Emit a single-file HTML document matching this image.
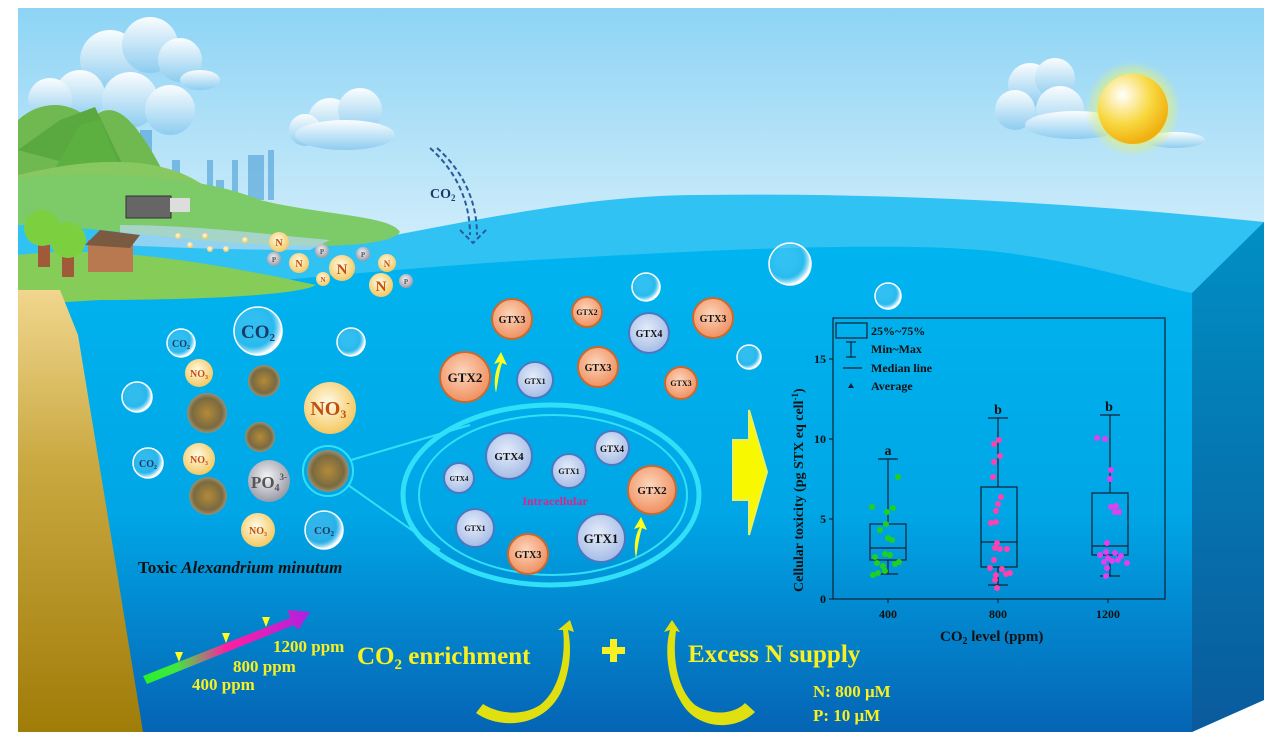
<!DOCTYPE html>
<html><head><meta charset="utf-8"><style>
html,body{margin:0;padding:0;background:#fff;}
svg{display:block;font-family:"Liberation Serif",serif;font-weight:bold;}
</style></head><body>
<svg width="1274" height="738" viewBox="0 0 1274 738" xmlns="http://www.w3.org/2000/svg">
<defs>
<linearGradient id="sky" x1="0" y1="0" x2="0" y2="1"><stop offset="0" stop-color="#8ed4f5"/><stop offset="1" stop-color="#e2f4fc"/></linearGradient>
<linearGradient id="sea" x1="0" y1="0" x2="0" y2="1"><stop offset="0" stop-color="#00b4f0"/><stop offset="0.55" stop-color="#00a6e6"/><stop offset="1" stop-color="#0564b4"/></linearGradient>
<linearGradient id="face" x1="0" y1="0" x2="0" y2="1"><stop offset="0" stop-color="#0090c4"/><stop offset="1" stop-color="#0a5a9c"/></linearGradient>
<linearGradient id="sand" x1="0" y1="0" x2="0" y2="1"><stop offset="0" stop-color="#f0d68e"/><stop offset="0.4" stop-color="#c9a840"/><stop offset="1" stop-color="#a07c08"/></linearGradient>
<linearGradient id="rain" x1="0" y1="0" x2="1" y2="0"><stop offset="0" stop-color="#2af02a"/><stop offset="0.2" stop-color="#40e840"/><stop offset="0.5" stop-color="#ff20a0"/><stop offset="1" stop-color="#b020e0"/></linearGradient>
<radialGradient id="bub" cx="0.4" cy="0.4" r="0.6"><stop offset="0" stop-color="#e8f8ff" stop-opacity="0.2"/><stop offset="0.7" stop-color="#60c8f0" stop-opacity="0.4"/><stop offset="1" stop-color="#ffffff"/></radialGradient>
<radialGradient id="no3" cx="0.45" cy="0.4" r="0.6"><stop offset="0" stop-color="#fffbe8"/><stop offset="1" stop-color="#f4c860"/></radialGradient>
<radialGradient id="po4" cx="0.45" cy="0.4" r="0.6"><stop offset="0" stop-color="#f4f4f8"/><stop offset="1" stop-color="#9a9aa6"/></radialGradient>
<radialGradient id="cell" cx="0.5" cy="0.5" r="0.5"><stop offset="0" stop-color="#b48a38"/><stop offset="0.75" stop-color="#7a6a40"/><stop offset="1" stop-color="#9a9070"/></radialGradient>
<radialGradient id="or" cx="0.45" cy="0.4" r="0.6"><stop offset="0" stop-color="#fcd6bc"/><stop offset="1" stop-color="#f09060"/></radialGradient>
<radialGradient id="bl" cx="0.45" cy="0.4" r="0.6"><stop offset="0" stop-color="#e4ecfa"/><stop offset="1" stop-color="#a6bce6"/></radialGradient>
<radialGradient id="sun" cx="0.35" cy="0.3" r="0.7"><stop offset="0" stop-color="#ffffff"/><stop offset="0.6" stop-color="#f8d840"/><stop offset="1" stop-color="#f0b010"/></radialGradient>
<radialGradient id="glow" cx="0.5" cy="0.5" r="0.5"><stop offset="0.6" stop-color="#e0f080"/><stop offset="1" stop-color="#e0f080" stop-opacity="0"/></radialGradient>
<linearGradient id="cloud" x1="0" y1="0" x2="0" y2="1"><stop offset="0" stop-color="#ffffff"/><stop offset="1" stop-color="#8cccf0"/></linearGradient>
</defs>
<!-- sky -->
<rect x="18" y="8" width="1246" height="300" fill="url(#sky)"/>
<!-- clouds -->
<g fill="url(#cloud)" opacity="0.95">
<circle cx="110" cy="60" r="30"/><circle cx="150" cy="45" r="28"/><circle cx="180" cy="60" r="22"/><circle cx="80" cy="95" r="25"/><circle cx="130" cy="100" r="28"/><circle cx="170" cy="110" r="25"/><circle cx="50" cy="100" r="22"/><ellipse cx="200" cy="80" rx="20" ry="10"/>
<circle cx="330" cy="120" r="22"/><circle cx="360" cy="110" r="22"/><circle cx="305" cy="130" r="16"/><ellipse cx="345" cy="135" rx="50" ry="15"/>
<circle cx="1030" cy="85" r="22"/><circle cx="1055" cy="78" r="20"/><circle cx="1015" cy="110" r="20"/><circle cx="1060" cy="110" r="24"/><ellipse cx="1075" cy="125" rx="50" ry="14"/><ellipse cx="1175" cy="140" rx="30" ry="8"/>
</g>
<!-- city -->
<g fill="#5aa8dc" opacity="0.7"><rect x="126" y="125" width="8" height="60"/><rect x="140" y="130" width="12" height="55"/><rect x="172" y="160" width="8" height="40"/><rect x="207" y="160" width="6" height="35"/><rect x="216" y="180" width="8" height="20"/><rect x="232" y="160" width="6" height="35"/><rect x="248" y="155" width="16" height="45"/><rect x="268" y="150" width="6" height="50"/></g>
<!-- sun -->
<circle cx="1133" cy="109" r="48" fill="url(#glow)"/>
<circle cx="1133" cy="109" r="35" fill="url(#sun)"/>
<!-- ocean -->
<path d="M18 310 L18 200 C150 200 300 240 380 238 C500 215 600 195 700 195 C900 192 1100 205 1264 222 L1264 700 L1192 732 L18 732 Z" fill="#31c2f4"/>
<path d="M18 300 C200 290 350 272 500 262 C700 250 900 240 1000 252 C1100 265 1150 285 1192 293 L1192 732 L18 732 Z" fill="url(#sea)"/>
<polygon points="1192,293 1264,222 1264,700 1192,732" fill="url(#face)"/>
<!-- land -->
<path d="M18 120 C40 100 70 100 90 120 C110 100 130 105 170 185 L18 200 Z" fill="#70b850"/>
<path d="M18 150 L60 120 L95 107 L130 180 Z" fill="#5aa840"/>
<path d="M40 195 L80 125 L100 120 L128 185 Z" fill="#5cb040"/>
<path d="M18 175 C80 160 160 150 210 190 L18 200 Z" fill="#88c860"/>
<path d="M18 178 C100 170 200 175 260 200 C320 215 390 215 400 232 C390 248 300 250 200 240 C120 232 60 225 18 225 Z" fill="#7cca68"/>
<path d="M120 225 C200 225 280 236 330 240 L310 250 C240 250 180 248 120 245 Z" fill="#b8d8f0" opacity="0.7"/>
<path d="M18 255 C100 245 200 260 316 285 C300 295 200 300 100 300 L18 305 Z" fill="#86cc58"/>
<path d="M18 290 L60 290 L78 335 L115 560 L143 732 L18 732 Z" fill="url(#sand)"/>
<!-- factory & house & trees -->
<rect x="126" y="196" width="45" height="22" fill="#666" stroke="#333"/><rect x="170" y="198" width="20" height="14" fill="#ddd"/>
<rect x="88" y="240" width="45" height="32" fill="#b87850"/><polygon points="85,245 100,230 140,235 130,248" fill="#7a5a40"/>
<rect x="38" y="245" width="12" height="22" fill="#a05a3a"/><rect x="62" y="255" width="12" height="22" fill="#a05a3a"/>
<circle cx="42" cy="228" r="18" fill="#7cd040"/><circle cx="68" cy="240" r="18" fill="#7cd040"/>
<!-- N P -->
<g text-anchor="middle" fill="#c05010">
<circle cx="279" cy="242" r="10" fill="url(#no3)"/><text x="279" y="246" font-size="10">N</text>
<circle cx="299" cy="263" r="10" fill="url(#no3)"/><text x="299" y="267" font-size="10">N</text>
<circle cx="342" cy="268" r="13" fill="url(#no3)"/><text x="342" y="274" font-size="15">N</text>
<circle cx="387" cy="263" r="9" fill="url(#no3)"/><text x="387" y="267" font-size="9">N</text>
<circle cx="323" cy="279" r="7" fill="url(#no3)"/><text x="323" y="282" font-size="7">N</text>
<circle cx="381" cy="285" r="12" fill="url(#no3)"/><text x="381" y="291" font-size="15">N</text>
<g fill="#555"><circle cx="274" cy="259" r="7" fill="url(#po4)"/><text x="274" y="262" font-size="7">P</text>
<circle cx="322" cy="251" r="7" fill="url(#po4)"/><text x="322" y="254" font-size="7">P</text>
<circle cx="363" cy="254" r="7" fill="url(#po4)"/><text x="363" y="257" font-size="7">P</text>
<circle cx="406" cy="281" r="7" fill="url(#po4)"/><text x="406" y="284" font-size="7">P</text></g>
<g fill="url(#no3)"><circle cx="178" cy="236" r="3"/><circle cx="205" cy="236" r="3"/><circle cx="190" cy="245" r="3"/><circle cx="210" cy="249" r="3"/><circle cx="226" cy="249" r="3"/><circle cx="245" cy="240" r="3"/></g>
</g>
<!-- CO2 arrow -->
<g fill="none" stroke="#2a5a9a" stroke-width="2" stroke-dasharray="5 3"><path d="M430 148 C455 170 470 200 470 235"/><path d="M437 148 C462 170 477 200 477 235"/><path d="M460 230 L473 243 L486 230"/></g>
<text x="430" y="198" font-size="14" fill="#1a3a6a">CO<tspan font-size="9" dy="3">2</tspan></text>
<!-- free bubbles -->
<g fill="url(#bub)" stroke="#ffffff" stroke-width="1.5">
<circle cx="790" cy="264" r="21"/><circle cx="646" cy="287" r="14"/><circle cx="888" cy="296" r="13"/><circle cx="749" cy="357" r="12"/>
<circle cx="351" cy="342" r="14"/><circle cx="137" cy="397" r="15"/>
<circle cx="258" cy="331" r="24"/><circle cx="181" cy="343" r="14"/><circle cx="148" cy="463" r="15"/><circle cx="324" cy="530" r="19"/>
</g>
<g fill="#1a3a6a" text-anchor="middle">
<text x="258" y="338" font-size="19">CO<tspan font-size="11" dy="3">2</tspan></text>
<text x="181" y="347" font-size="10">CO<tspan font-size="6" dy="2">2</tspan></text>
<text x="148" y="467" font-size="10">CO<tspan font-size="6" dy="2">2</tspan></text>
<text x="324" y="534" font-size="11">CO<tspan font-size="7" dy="2">2</tspan></text>
</g>
<g text-anchor="middle" fill="#c05010">
<circle cx="199" cy="373" r="14" fill="url(#no3)"/><text x="199" y="377" font-size="10">NO<tspan font-size="6" dy="2">3</tspan></text>
<circle cx="330" cy="408" r="26" fill="url(#no3)"/><text x="330" y="415" font-size="20">NO<tspan font-size="12" dy="3">3</tspan><tspan font-size="10" dy="-12">-</tspan></text>
<circle cx="199" cy="459" r="16" fill="url(#no3)"/><text x="199" y="463" font-size="10">NO<tspan font-size="6" dy="2">3</tspan></text>
<circle cx="258" cy="530" r="17" fill="url(#no3)"/><text x="258" y="534" font-size="10">NO<tspan font-size="6" dy="2">3</tspan></text>
<circle cx="269" cy="481" r="21" fill="url(#po4)"/><text x="269" y="488" font-size="17" fill="#555">PO<tspan font-size="10" dy="3">4</tspan><tspan font-size="9" dy="-11">3-</tspan></text>
</g>
<g fill="url(#cell)"><circle cx="264" cy="381" r="16"/><circle cx="207" cy="413" r="20"/><circle cx="260" cy="437" r="15"/><circle cx="208" cy="496" r="19"/><circle cx="328" cy="471" r="21"/></g>
<circle cx="328" cy="471" r="25" fill="none" stroke="#30e0f8" stroke-width="2"/>
<line x1="351" y1="460" x2="470" y2="425" stroke="#30e0f8" stroke-width="2"/>
<line x1="348" y1="485" x2="440" y2="550" stroke="#30e0f8" stroke-width="2"/>
<text x="138" y="573" font-size="17" fill="#111">Toxic <tspan font-style="italic">Alexandrium minutum</tspan></text>
<!-- ellipse -->
<ellipse cx="551" cy="495" rx="148" ry="90" fill="none" stroke="#30e0f8" stroke-width="5"/>
<ellipse cx="553" cy="495" rx="134" ry="80" fill="none" stroke="#30e0f8" stroke-width="2"/>
<!-- GTX -->
<g text-anchor="middle" fill="#111" stroke-width="2">
<circle cx="512" cy="319" r="20" fill="url(#or)" stroke="#c86a30"/><text x="512" y="323" font-size="10">GTX3</text>
<circle cx="587" cy="312" r="15" fill="url(#or)" stroke="#c86a30"/><text x="587" y="315" font-size="8">GTX2</text>
<circle cx="649" cy="333" r="20" fill="url(#bl)" stroke="#4a78c0"/><text x="649" y="337" font-size="10">GTX4</text>
<circle cx="713" cy="318" r="20" fill="url(#or)" stroke="#c86a30"/><text x="713" y="322" font-size="10">GTX3</text>
<circle cx="465" cy="377" r="25" fill="url(#or)" stroke="#c86a30"/><text x="465" y="382" font-size="13">GTX2</text>
<circle cx="535" cy="380" r="18" fill="url(#bl)" stroke="#4a78c0"/><text x="535" y="384" font-size="8">GTX1</text>
<circle cx="598" cy="367" r="20" fill="url(#or)" stroke="#c86a30"/><text x="598" y="371" font-size="10">GTX3</text>
<circle cx="681" cy="383" r="16" fill="url(#or)" stroke="#c86a30"/><text x="681" y="386" font-size="8">GTX3</text>
<circle cx="509" cy="456" r="23" fill="url(#bl)" stroke="#4a78c0"/><text x="509" y="460" font-size="11">GTX4</text>
<circle cx="612" cy="448" r="17" fill="url(#bl)" stroke="#4a78c0"/><text x="612" y="452" font-size="9">GTX4</text>
<circle cx="569" cy="471" r="17" fill="url(#bl)" stroke="#4a78c0"/><text x="569" y="474" font-size="8">GTX1</text>
<circle cx="459" cy="478" r="15" fill="url(#bl)" stroke="#4a78c0"/><text x="459" y="481" font-size="7">GTX4</text>
<circle cx="652" cy="490" r="24" fill="url(#or)" stroke="#c86a30"/><text x="652" y="494" font-size="11">GTX2</text>
<circle cx="475" cy="528" r="19" fill="url(#bl)" stroke="#4a78c0"/><text x="475" y="531" font-size="8">GTX1</text>
<circle cx="528" cy="554" r="20" fill="url(#or)" stroke="#c86a30"/><text x="528" y="558" font-size="10">GTX3</text>
<circle cx="601" cy="538" r="24" fill="url(#bl)" stroke="#4a78c0"/><text x="601" y="543" font-size="13">GTX1</text>
</g>
<text x="555" y="505" font-size="12" fill="#e0208a" text-anchor="middle">Intracellular</text>
<g fill="#ffff20"><path d="M496 393 C493 380 496 368 500 362 L494 364 L501 352 L507 365 L502 363 C499 372 498 382 496 393 Z"/><path d="M636 558 C633 545 636 533 640 527 L634 529 L641 517 L647 530 L642 528 C639 537 638 547 636 558 Z"/></g>
<!-- big arrow -->
<polygon points="733,440 749,440 749,410 767,472 749,535 749,500 733,500" fill="#f8f800" stroke="#e8f060" stroke-width="2"/>
<!-- chart -->
<g stroke="#123" stroke-width="1.2" fill="none">
<rect x="833" y="318" width="332" height="281"/>
<line x1="829" y1="599" x2="833" y2="599"/><line x1="829" y1="519" x2="833" y2="519"/><line x1="829" y1="439" x2="833" y2="439"/><line x1="829" y1="359" x2="833" y2="359"/>
<line x1="888" y1="599" x2="888" y2="603"/><line x1="998" y1="599" x2="998" y2="603"/><line x1="1108" y1="599" x2="1108" y2="603"/>
<rect x="870" y="524" width="36" height="36"/><line x1="870" y1="548" x2="906" y2="548"/><line x1="888" y1="459" x2="888" y2="524"/><line x1="888" y1="560" x2="888" y2="574"/><line x1="878" y1="459" x2="898" y2="459"/><line x1="878" y1="574" x2="898" y2="574"/>
<rect x="981" y="487" width="36" height="80"/><line x1="981" y1="542" x2="1017" y2="542"/><line x1="998" y1="418" x2="998" y2="487"/><line x1="998" y1="567" x2="998" y2="585"/><line x1="988" y1="418" x2="1008" y2="418"/><line x1="988" y1="585" x2="1008" y2="585"/>
<rect x="1092" y="493" width="36" height="62"/><line x1="1092" y1="546" x2="1128" y2="546"/><line x1="1110" y1="415" x2="1110" y2="493"/><line x1="1110" y1="555" x2="1110" y2="576"/><line x1="1100" y1="415" x2="1120" y2="415"/><line x1="1100" y1="576" x2="1120" y2="576"/>
<rect x="836" y="323" width="31" height="15"/><line x1="846" y1="342" x2="856" y2="342"/><line x1="851" y1="342" x2="851" y2="357"/><line x1="846" y1="357" x2="856" y2="357"/><line x1="843" y1="368" x2="862" y2="368"/>
</g>
<polygon points="851,383 854,388 848,388" fill="#123"/>
<g font-size="12" fill="#111">
<text x="871" y="335">25%~75%</text><text x="871" y="353">Min~Max</text><text x="871" y="372">Median line</text><text x="871" y="390">Average</text>
<g text-anchor="end"><text x="826" y="603">0</text><text x="826" y="523">5</text><text x="826" y="443">10</text><text x="826" y="363">15</text></g>
<g text-anchor="middle"><text x="888" y="618">400</text><text x="998" y="618">800</text><text x="1108" y="618">1200</text>
<text x="888" y="455" font-size="14">a</text><text x="998" y="414" font-size="14">b</text><text x="1109" y="411" font-size="14">b</text></g>
<text x="940" y="641" font-size="15">CO<tspan font-size="10" dy="3">2</tspan><tspan dy="-3"> level (ppm)</tspan></text>
<text transform="translate(803,592) rotate(-90)" font-size="14">Cellular toxicity (pg STX eq cell<tspan font-size="9" dy="-5">-1</tspan><tspan dy="5">)</tspan></text>
</g>
<g fill="#20d020"><circle cx="898" cy="477" r="3"/><circle cx="872" cy="507" r="3"/><circle cx="887" cy="512" r="3"/><circle cx="893" cy="508" r="3"/><circle cx="886" cy="524" r="3"/><circle cx="880" cy="530" r="3"/><circle cx="888" cy="538" r="3"/><circle cx="892" cy="540" r="3"/><circle cx="885" cy="554" r="3"/><circle cx="890" cy="555" r="3"/><circle cx="875" cy="557" r="3"/><circle cx="883" cy="566" r="3"/><circle cx="877" cy="563" r="3"/><circle cx="895" cy="564" r="3"/><circle cx="899" cy="562" r="3"/><circle cx="873" cy="575" r="3"/><circle cx="878" cy="573" r="3"/><circle cx="885" cy="571" r="3"/></g>
<g fill="#ff40b0"><circle cx="999" cy="440" r="3"/><circle cx="994" cy="444" r="3"/><circle cx="1000" cy="456" r="3"/><circle cx="994" cy="462" r="3"/><circle cx="993" cy="477" r="3"/><circle cx="1001" cy="497" r="3"/><circle cx="998" cy="504" r="3"/><circle cx="996" cy="511" r="3"/><circle cx="991" cy="523" r="3"/><circle cx="996" cy="522" r="3"/><circle cx="997" cy="543" r="3"/><circle cx="995" cy="548" r="3"/><circle cx="1000" cy="549" r="3"/><circle cx="1007" cy="549" r="3"/><circle cx="994" cy="560" r="3"/><circle cx="990" cy="568" r="3"/><circle cx="1002" cy="569" r="3"/><circle cx="996" cy="575" r="3"/><circle cx="1006" cy="574" r="3"/><circle cx="1010" cy="573" r="3"/><circle cx="995" cy="580" r="3"/><circle cx="997" cy="588" r="3"/></g>
<g fill="#e040f0"><circle cx="1097" cy="438" r="3"/><circle cx="1105" cy="439" r="3"/><circle cx="1111" cy="470" r="3"/><circle cx="1110" cy="479" r="3"/><circle cx="1111" cy="507" r="3"/><circle cx="1116" cy="506" r="3"/><circle cx="1115" cy="512" r="3"/><circle cx="1119" cy="512" r="3"/><circle cx="1107" cy="543" r="3"/><circle cx="1100" cy="555" r="3"/><circle cx="1106" cy="552" r="3"/><circle cx="1115" cy="553" r="3"/><circle cx="1121" cy="556" r="3"/><circle cx="1108" cy="558" r="3"/><circle cx="1104" cy="562" r="3"/><circle cx="1112" cy="561" r="3"/><circle cx="1118" cy="560" r="3"/><circle cx="1107" cy="568" r="3"/><circle cx="1127" cy="563" r="3"/><circle cx="1106" cy="576" r="3"/></g>
<!-- bottom -->
<polygon points="143,676 290,618 288,610 310,612 298,630 294,625 147,684" fill="url(#rain)"/>
<g fill="#ffff20"><polygon points="175,652 183,652 179,662"/><polygon points="222,633 230,633 226,643"/><polygon points="262,617 270,617 266,627"/></g>
<g fill="#f8f020" font-size="17">
<text x="273" y="652">1200 ppm</text><text x="233" y="672">800 ppm</text><text x="192" y="690">400 ppm</text>
<text x="357" y="664" font-size="25">CO<tspan font-size="15" dy="5">2</tspan><tspan dy="-5"> enrichment</tspan></text>
<text x="688" y="662" font-size="25">Excess N supply</text>
<text x="813" y="697">N: 800 μM</text><text x="813" y="721">P: 10 μM</text>
</g>
<path d="M602 647 h8 v-8 h7 v8 h8 v7 h-8 v8 h-7 v-8 h-8 Z" fill="#f8f020"/>
<path d="M476 713 C500 730 545 728 562 690 C570 670 572 650 568 630 L574 632 L570 620 L558 630 L563 630 C566 655 560 690 540 705 C520 718 495 712 483 704 Z" fill="#e0e010"/>
<path d="M755 712 C735 732 695 730 680 700 C668 680 664 650 670 630 L664 632 L672 620 L680 632 L676 631 C672 660 678 690 695 705 C715 718 737 712 745 703 Z" fill="#e0e010"/>
</svg>
</body></html>
